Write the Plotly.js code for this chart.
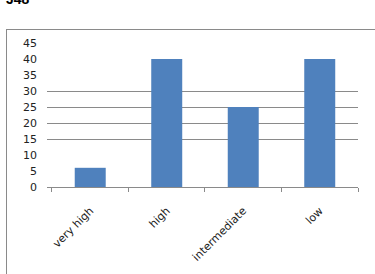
<!DOCTYPE html>
<html>
<head>
<meta charset="utf-8">
<script src="https://cdn.plot.ly/plotly-3.0.1.min.js"></script>
<style>
html,body{margin:0;padding:0;width:375px;height:274px;overflow:hidden;background:#fff;}
#frame{position:absolute;left:6px;top:29px;width:400px;height:300px;border-left:1px solid #8a8a8a;border-top:1px solid #8a8a8a;}
#title{position:absolute;left:6px;top:-9px;font-family:"Liberation Sans",Arial,sans-serif;font-weight:bold;font-size:14px;color:#000;}
#chart{position:absolute;left:0;top:0;width:375px;height:274px;}
</style>
</head>
<body>
<div id="title">J48</div>
<div id="frame"></div>
<div id="chart"></div>
<script>
var categories = ["very high", "high", "intermediate", "low"];
var values = [6, 40, 25, 40];
var yTicks = [0, 5, 10, 15, 20, 25, 30, 35, 40, 45];
var gridTicks = [15, 20, 25, 30];

var data = [
  {type: "bar", x: categories, y: values, marker: {color: "#4F81BD"}, hoverinfo: "none"},
  {type: "scatter", x: categories, y: values, yaxis: "y2", mode: "none", hoverinfo: "none", showlegend: false}
];

var layout = {
  width: 375, height: 274,
  margin: {l: 47, r: 17, t: 43, b: 87, pad: 0},
  paper_bgcolor: "rgba(0,0,0,0)",
  plot_bgcolor: "rgba(0,0,0,0)",
  showlegend: false,
  bargap: 0.595,
  font: {family: "DejaVu Sans, Liberation Sans, sans-serif", size: 11, color: "#222"},
  xaxis: {
    type: "category", range: [-0.565, 3.5],
    showline: true, linecolor: "#8a8a8a", linewidth: 1,
    ticks: "outside", tickson: "boundaries", ticklen: 4, tickcolor: "#8a8a8a",
    tickangle: -45, showgrid: false, zeroline: false,
    ticklabelstandoff: 12,
    tickfont: {size: 11, color: "#222"}
  },
  yaxis: {
    range: [0, 45], tickvals: yTicks, ticktext: yTicks.map(String),
    showgrid: false, zeroline: false, showline: false, ticks: "",
    ticklabelstandoff: 9,
    tickfont: {size: 11, color: "#222"}
  },
  yaxis2: {
    overlaying: "y", range: [0, 45], tickvals: gridTicks,
    showticklabels: false, showgrid: true, gridcolor: "#8a8a8a", gridwidth: 1,
    zeroline: false, showline: false, ticks: ""
  }
};

Plotly.newPlot("chart", data, layout, {displayModeBar: false, staticPlot: true});
</script>
</body>
</html>
